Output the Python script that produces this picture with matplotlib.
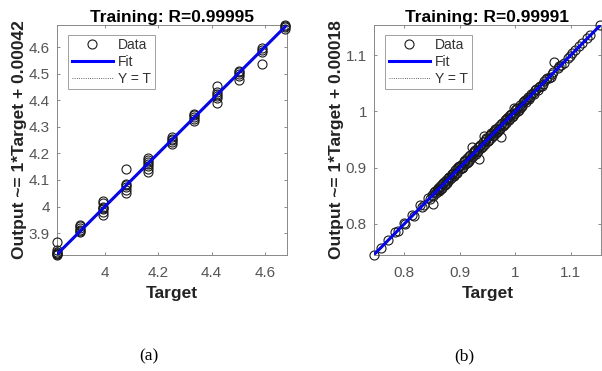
import numpy as np
import matplotlib.pyplot as plt
from matplotlib.ticker import FuncFormatter

# =====================
# DATA
# =====================

# panel (a)
targets_a = ([3.818] * 7 + [3.905] * 6 + [3.991] * 7 + [4.077] * 6 + [4.163] * 7
             + [4.25] * 5 + [4.335] * 5 + [4.42] * 6 + [4.505] * 5 + [4.59] * 4 + [4.676] * 4)
outputs_a = [3.818, 3.820, 3.823, 3.826, 3.830, 3.835, 3.865,
             3.905, 3.908, 3.912, 3.918, 3.925, 3.930,
             3.970, 3.980, 3.990, 3.995, 4.000, 4.012, 4.022,
             4.050, 4.062, 4.072, 4.080, 4.086, 4.140,
             4.130, 4.142, 4.152, 4.160, 4.168, 4.176, 4.182,
             4.235, 4.242, 4.250, 4.256, 4.262,
             4.322, 4.330, 4.338, 4.345, 4.350,
             4.388, 4.408, 4.415, 4.422, 4.430, 4.455,
             4.478, 4.490, 4.500, 4.507, 4.512,
             4.535, 4.580, 4.588, 4.595,
             4.668, 4.675, 4.680, 4.684]
slope_a, icept_a, r_a = 1, 0.00042, "0.99995"

# panel (b)
targets_b = [0.745, 0.757, 0.771, 0.784, 0.788, 0.799, 0.802, 0.814, 0.817, 0.829,
             0.832, 0.836, 0.843, 0.846, 0.849, 0.851, 0.854, 0.857, 0.860, 0.862,
             0.865, 0.867, 0.870, 0.873, 0.875, 0.878, 0.881, 0.884, 0.886, 0.889,
             0.892, 0.894, 0.897, 0.900, 0.902, 0.905, 0.908, 0.910, 0.913, 0.916,
             0.918, 0.921, 0.924, 0.926, 0.929, 0.932, 0.935, 0.937, 0.940, 0.943,
             0.946, 0.948, 0.951, 0.954, 0.956, 0.959, 0.962, 0.964, 0.967, 0.970,
             0.972, 0.975, 0.978, 0.981, 0.983, 0.986, 0.989, 0.991, 0.994, 0.997,
             1.000, 1.003, 1.006, 1.009, 1.012, 1.015, 1.019, 1.022, 1.025, 1.029,
             1.033, 1.036, 1.040, 1.044, 1.048, 1.052, 1.057, 1.061, 1.066, 1.070,
             1.076, 1.082, 1.087, 1.094, 1.103, 1.108, 1.114, 1.130, 1.135, 1.153,
             0.852, 0.856, 0.861, 0.866, 0.871, 0.876, 0.880, 0.885, 0.890, 0.895,
             0.899, 0.904, 0.909, 0.914, 0.919, 0.923, 0.928, 0.933, 0.938, 0.942,
             0.947, 0.952, 0.957, 0.961, 0.966, 0.971, 0.976, 0.980, 0.985, 0.990,
             0.995, 0.999, 1.004, 1.010, 1.017, 1.027, 1.038, 1.050, 1.064, 1.079,
             1.099, 1.121,
             0.858, 0.863, 0.868, 0.874, 0.879, 0.883, 0.888, 0.893, 0.898, 0.903,
             0.907, 0.912, 0.917, 0.922, 0.927, 0.931, 0.936, 0.941, 0.945, 0.950,
             0.955, 0.960, 0.965, 0.969, 0.974, 0.979, 0.984, 0.988, 0.993, 0.998,
             1.002, 1.008, 1.014, 1.021, 1.031, 1.042, 1.055, 1.068]
outputs_b = [0.745, 0.758, 0.772, 0.786, 0.787, 0.801, 0.800, 0.816, 0.815, 0.833,
             0.830, 0.834, 0.846, 0.844, 0.851, 0.835, 0.857, 0.855, 0.862, 0.859,
             0.868, 0.864, 0.873, 0.870, 0.878, 0.876, 0.884, 0.881, 0.889, 0.887,
             0.896, 0.891, 0.902, 0.897, 0.905, 0.902, 0.912, 0.907, 0.917, 0.912,
             0.922, 0.936, 0.921, 0.930, 0.925, 0.936, 0.916, 0.941, 0.936, 0.957,
             0.943, 0.952, 0.947, 0.958, 0.953, 0.963, 0.958, 0.968, 0.964, 0.974,
             0.969, 0.955, 0.975, 0.985, 0.980, 0.990, 0.986, 0.994, 0.991, 1.006,
             0.997, 1.006, 1.003, 1.012, 1.010, 1.018, 1.017, 1.025, 1.023, 1.031,
             1.031, 1.038, 1.038, 1.046, 1.046, 1.054, 1.059, 1.060, 1.067, 1.088,
             1.077, 1.083, 1.086, 1.095, 1.104, 1.109, 1.116, 1.131, 1.136, 1.154,
             0.850, 0.859, 0.864, 0.862, 0.875, 0.872, 0.883, 0.888, 0.886, 0.899,
             0.903, 0.900, 0.914, 0.910, 0.916, 0.927, 0.932, 0.929, 0.935, 0.946,
             0.951, 0.949, 0.961, 0.965, 0.962, 0.968, 0.979, 0.977, 0.988, 0.993,
             0.992, 1.002, 1.001, 1.008, 1.020, 1.025, 1.040, 1.048, 1.062, 1.080,
             1.098, 1.122,
             0.861, 0.860, 0.871, 0.871, 0.882, 0.880, 0.891, 0.890, 0.901, 0.900,
             0.910, 0.909, 0.920, 0.919, 0.930, 0.928, 0.939, 0.938, 0.948, 0.947,
             0.958, 0.957, 0.968, 0.966, 0.977, 0.976, 0.987, 0.985, 0.996, 0.995,
             1.005, 1.006, 1.016, 1.023, 1.033, 1.044, 1.057, 1.070]
slope_b, icept_b, r_b = 1, 0.00018, "0.99991"

OUTPUT_FIG = "out.png"

# =====================
# PLOT
# =====================

plt.rcParams["font.family"] = ["Liberation Sans", "DejaVu Sans"]

fig = plt.figure(figsize=(6.02, 3.71), dpi=100)
ax_a = fig.add_axes([0.094, 0.313, 0.383, 0.620])
ax_b = fig.add_axes([0.621, 0.313, 0.377, 0.620])

panels = [
    (ax_a, targets_a, outputs_a, slope_a, icept_a, r_a, [4, 4.2, 4.4, 4.6],
     [3.9, 4, 4.1, 4.2, 4.3, 4.4, 4.5, 4.6], "(a)"),
    (ax_b, targets_b, outputs_b, slope_b, icept_b, r_b, [0.8, 0.9, 1, 1.1],
     [0.8, 0.9, 1, 1.1], "(b)"),
]

grey = "#555555"
fmt = FuncFormatter(lambda v, p: "%g" % round(v, 3))

for ax, t, y, m, b, r, xt, yt, cap in panels:
    t = np.asarray(t)
    y = np.asarray(y)
    lo = min(t.min(), y.min())
    hi = max(t.max(), y.max())
    xs = np.array([lo, hi])

    ax.plot(t, y, "o", ms=6.5, mfc="none", mec="#1a1a1a", mew=0.8,
            label="Data", clip_on=False, zorder=3)
    ax.plot(xs, m * xs + b, color="#0000ff", lw=2.2, label="Fit", zorder=4)
    ax.plot(xs, xs, ":", color="#333333", lw=0.6, label="Y = T", zorder=5)

    ax.set_xlim(lo, hi)
    ax.set_ylim(lo, hi)
    ax.set_xticks(xt)
    ax.set_yticks(yt)
    ax.xaxis.set_major_formatter(fmt)
    ax.yaxis.set_major_formatter(fmt)
    ax.tick_params(direction="in", length=2.5, width=0.6, top=True, right=True,
                   labelsize=11, labelcolor=grey, color="#777777")
    ax.tick_params(axis="x", pad=8)
    ax.tick_params(axis="y", pad=5)
    for s in ax.spines.values():
        s.set_color("#888888")
        s.set_linewidth(0.7)

    ax.set_title("Training: R=%s" % r, fontsize=12.5, fontweight="bold", pad=2)
    ax.set_xlabel("Target", fontsize=12.5, fontweight="bold", color="#222222", labelpad=4)
    ax.set_ylabel("Output ~= %g*Target + %s" % (m, ("%.5f" % b)),
                  fontsize=12.5, fontweight="bold", color="#222222", labelpad=1)

    leg = ax.legend(loc="upper left", fontsize=10, frameon=True, fancybox=False,
                    handlelength=3.0, borderpad=0.25, labelspacing=0.2,
                    handletextpad=0.35, borderaxespad=0,
                    bbox_to_anchor=(0.05, 0.957))
    leg.get_frame().set_edgecolor("#888888")
    leg.get_frame().set_linewidth(0.7)
    for txt in leg.get_texts():
        txt.set_color("#333333")

    ax.text(0.4, -0.44, cap, transform=ax.transAxes, ha="center", va="center",
            fontsize=12.5, family="Liberation Serif")

fig.savefig(OUTPUT_FIG, dpi=100)
print("Saved figure to", OUTPUT_FIG)
